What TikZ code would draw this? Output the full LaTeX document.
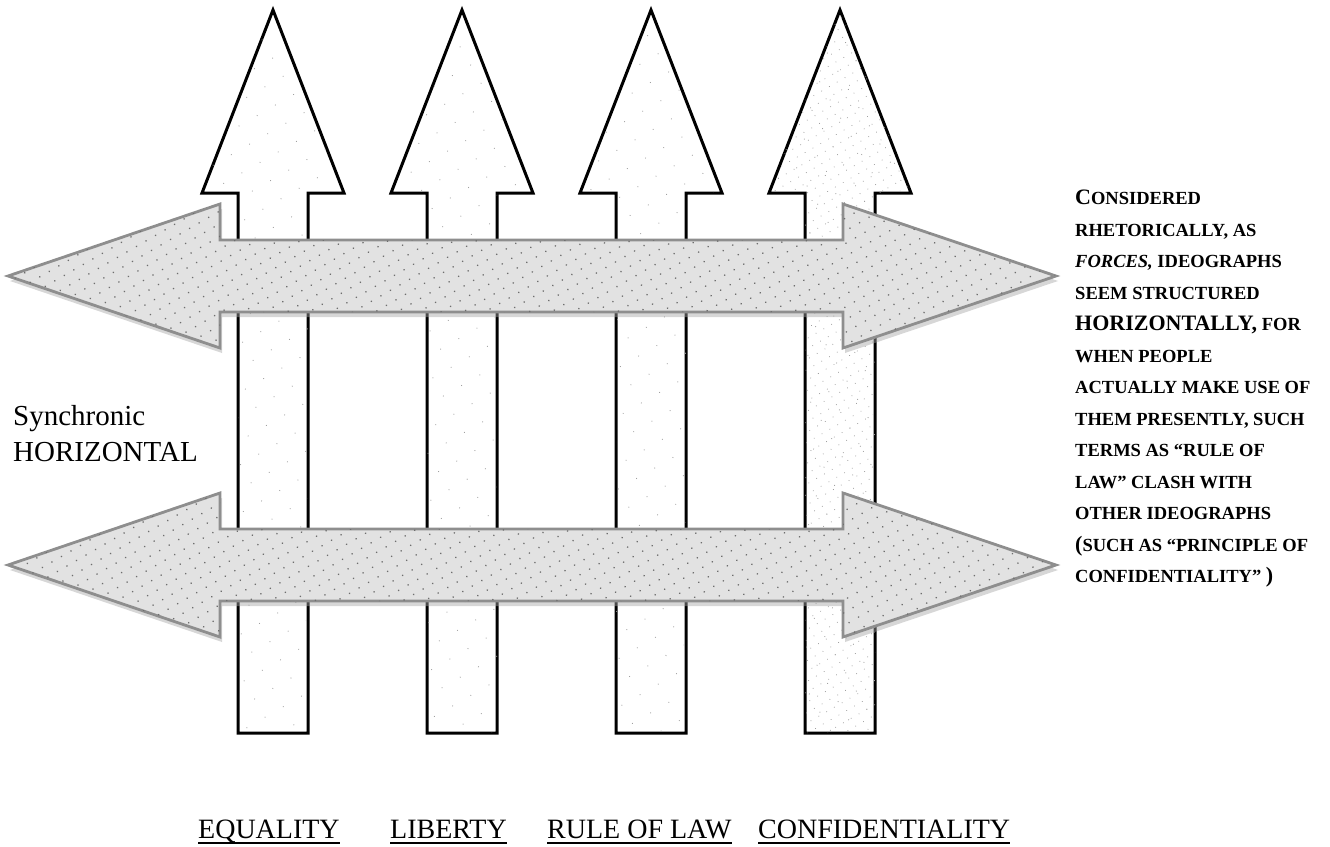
\documentclass[tikz,border=0pt]{standalone}
\usepackage{fontspec}
\setmainfont{Liberation Serif}
\usetikzlibrary{positioning,patterns.meta,shadows}
\definecolor{hfill}{HTML}{E2E2E2}
\definecolor{hedge}{HTML}{8E8E8E}
\definecolor{hdot}{HTML}{6E6E6E}
\definecolor{vdot}{HTML}{A0A0A0}
\newsavebox{\lblbox}
\newcommand{\thickul}[1]{\sbox{\lblbox}{#1}\rlap{\rule[-5.5pt]{\wd\lblbox}{1.8pt}}\usebox{\lblbox}}
\newcommand{\fullcap}[1]{{\fontsize{22}{31.5}\selectfont #1}}
\tikzset{
  uparr/.style   ={draw=black, line width=3pt, fill=white,
                   postaction={pattern={Dots[radius=0.6pt, distance=21pt, angle=30]}, pattern color=vdot}},
  uparrd/.style  ={uparr, postaction={pattern={Dots[radius=0.55pt, distance=9pt, angle=30]}, pattern color=vdot}},
  sidearr/.style ={draw=hedge, line width=2.8pt, fill=hfill,
                   drop shadow={shadow xshift=2pt, shadow yshift=-5pt, fill=gray!70, opacity=0.45},
                   postaction={pattern={Dots[radius=0.9pt, distance=11pt, angle=30]}, pattern color=hdot}},
  sidenote/.style={inner sep=0pt, align=left, font=\fontsize{18.5}{31.5}\selectfont\bfseries},
  leftnote/.style={inner sep=0pt, align=left, font=\fontsize{29}{36}\selectfont},
  lbl/.style     ={inner sep=0pt, anchor=base west, font=\fontsize{28}{32}\selectfont},
}
\begin{document}
\begin{tikzpicture}[x=1pt, y=-1pt]
  \useasboundingbox (0,0) rectangle (1330,846);

  % vertical arrows (diachronic)
  \foreach \cx/\look in {273/uparr, 462/uparr, 651/uparr, 840/uparrd}
    \path[\look] (\cx,10) -- ({\cx+71},193) -- ({\cx+35},193) -- ({\cx+35},733)
      -- ({\cx-35},733) -- ({\cx-35},193) -- ({\cx-71},193) -- cycle;

  % horizontal double arrows
  \foreach \cy in {276,565}
    \path[sidearr] (8,\cy) -- (220,{\cy-72}) -- (220,{\cy-36}) -- (843,{\cy-36})
      -- (843,{\cy-72}) -- (1056,\cy) -- (843,{\cy+72}) -- (843,{\cy+36})
      -- (220,{\cy+36}) -- (220,{\cy+72}) -- cycle;

  \node[leftnote, anchor=north west] (synch) at (13,405) {Synchronic\\HORIZONTAL};

  \node[sidenote, anchor=north west] (forces) at (1075,190) {%
    \fullcap{C}ONSIDERED\\
    RHETORICALLY, AS\\
    \textit{FORCES,} IDEOGRAPHS\\
    SEEM STRUCTURED\\
    \fullcap{HORIZONTALLY,} FOR\\
    WHEN PEOPLE\\
    ACTUALLY MAKE USE OF\\
    THEM PRESENTLY, SUCH\\
    TERMS AS “RULE OF\\
    LAW” CLASH WITH\\
    OTHER IDEOGRAPHS\\
    \fullcap{(}SUCH AS “PRINCIPLE OF\\
    CONFIDENTIALITY” \fullcap{)}};

  \node[lbl] (equality) at (198,838) {\thickul{EQUALITY}};
  \node[lbl] (liberty)  at (390,838) {\thickul{LIBERTY}};
  \node[lbl] (rulelaw)  at (547,838) {\thickul{RULE OF LAW}};
  \node[lbl] (confid)   at (758,838) {\thickul{CONFIDENTIALITY}};
\end{tikzpicture}
\end{document}
